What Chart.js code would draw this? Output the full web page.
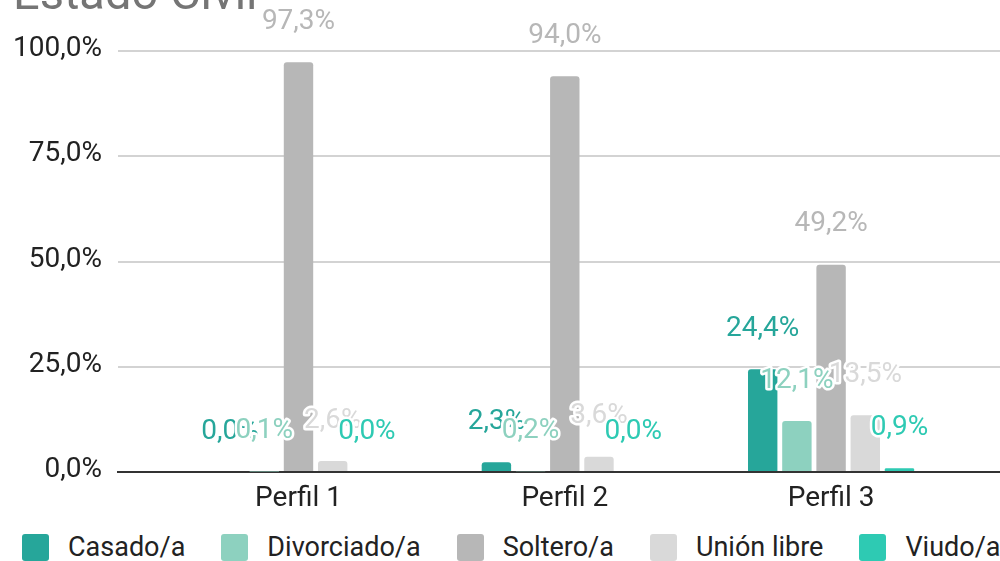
<!DOCTYPE html>
<html><head><meta charset="utf-8">
<script src="https://cdn.jsdelivr.net/npm/chart.js@4.4.1/dist/chart.umd.min.js"></script>
<style>
html,body{margin:0;padding:0;width:1000px;height:561px;overflow:hidden;background:#fff;position:relative;}
#wrap{position:absolute;left:0;top:-40px;width:1009px;height:552px;}
#legend{position:absolute;left:22px;top:534px;display:flex;align-items:flex-start;white-space:nowrap;font-family:Roboto,sans-serif;font-size:27px;line-height:27px;color:#222;}
.item{display:flex;align-items:flex-start;margin-right:36px;}
.sw{width:27px;height:27px;border-radius:3px;margin-right:19px;flex:none;}
</style></head><body>
<div id="wrap"><canvas id="c" width="1009" height="552"></canvas></div>
<div id="legend"></div>
<script>
// ---- data ----
const chartTitle = 'Estado Civil';
const categories = ['Perfil 1', 'Perfil 2', 'Perfil 3'];
const seriesNames = ['Casado/a', 'Divorciado/a', 'Soltero/a', 'Unión libre', 'Viudo/a'];
const casado     = [0.0, 2.3, 24.4];
const divorciado = [0.1, 0.2, 12.1];
const soltero    = [97.3, 94.0, 49.2];
const unionLibre = [2.6, 3.6, 13.5];
const viudo      = [0.0, 0.0, 0.9];
const yTickValues = [0, 25, 50, 75, 100];
const yTickLabels = ['0,0%', '25,0%', '50,0%', '75,0%', '100,0%'];
const seriesColors = ['#26a69a', '#8dd1bf', '#b7b7b7', '#d9d9d9', '#2ecab3'];

const seriesValues = [casado, divorciado, soltero, unionLibre, viudo];
const fmt = v => v.toFixed(1).replace('.', ',') + '%';
const FONT = 'Roboto';

const datasets = seriesNames.map((name, s) => ({
  label: name,
  data: seriesValues[s].map((v, i) => ({ x: i + 1, y: v })),
  backgroundColor: seriesColors[s],
  borderRadius: 3,
  borderSkipped: 'start',
  categoryPercentage: 0.642,
  barPercentage: 0.86
}));

const valueLabels = {
  id: 'valueLabels',
  afterDatasetsDraw(chart) {
    const ctx = chart.ctx;
    ctx.save();
    ctx.font = '28px ' + FONT;
    ctx.textAlign = 'center';
    ctx.textBaseline = 'alphabetic';
    ctx.lineJoin = 'round';
    ctx.lineWidth = 5;
    ctx.strokeStyle = '#ffffff';
    chart.data.datasets.forEach((ds, i) => {
      const meta = chart.getDatasetMeta(i);
      meta.data.forEach((bar, j) => {
        const t = fmt(ds.data[j].y);
        const y = bar.y - 33.5;
        ctx.strokeText(t, bar.x, y);
        ctx.fillStyle = ds.backgroundColor;
        ctx.fillText(t, bar.x, y);
      });
    });
    ctx.restore();
  }
};

const chart = new Chart(document.getElementById('c'), {
  type: 'bar',
  data: { datasets },
  options: {
    responsive: false,
    animation: false,
    devicePixelRatio: 1,
    layout: { padding: { left: 13, right: 0, top: 0, bottom: 0 } },
    plugins: {
      legend: { display: false },
      tooltip: { enabled: false },
      title: {
        display: true,
        text: chartTitle,
        align: 'start',
        color: '#757575',
        font: { family: FONT, size: 47, weight: 'normal' },
        padding: { top: 9, bottom: 25.6 }
      }
    },
    scales: {
      x: {
        type: 'linear',
        offset: false,
        bounds: 'ticks',
        min: 0.3222,
        max: 3.6681,
        grid: { display: false, drawTicks: false },
        border: { display: true, color: '#333333', width: 2 },
        ticks: {
          stepSize: 1,
          includeBounds: false,
          padding: 10,
          color: '#222222',
          font: { family: FONT, size: 28 },
          callback: v => (Number.isInteger(v) && categories[v - 1]) ? categories[v - 1] : ''
        },
        afterFit: s => { s.height = 40; }
      },
      y: {
        min: 0,
        max: 100,
        afterBuildTicks: s => { s.ticks = yTickValues.map(v => ({ value: v })); },
        grid: {
          drawTicks: false,
          lineWidth: 2,
          color: c => (c.tick && c.tick.value === 0) ? 'rgba(0,0,0,0)' : '#d3d3d3'
        },
        border: { display: false },
        ticks: {
          padding: 16,
          labelOffset: -2,
          color: '#222222',
          font: { family: FONT, size: 28 },
          callback: v => yTickLabels[yTickValues.indexOf(v)]
        },
        afterFit: s => { s.width = 105; }
      }
    }
  },
  plugins: [valueLabels]
});

// HTML legend built from the chart's own legend items
const legendEl = document.getElementById('legend');
Chart.defaults.plugins.legend.labels.generateLabels(chart).forEach(item => {
  const it = document.createElement('div');
  it.className = 'item';
  const sw = document.createElement('span');
  sw.className = 'sw';
  sw.style.background = item.fillStyle;
  const tx = document.createElement('span');
  tx.textContent = item.text;
  it.appendChild(sw);
  it.appendChild(tx);
  legendEl.appendChild(it);
});
</script>
</body></html>
